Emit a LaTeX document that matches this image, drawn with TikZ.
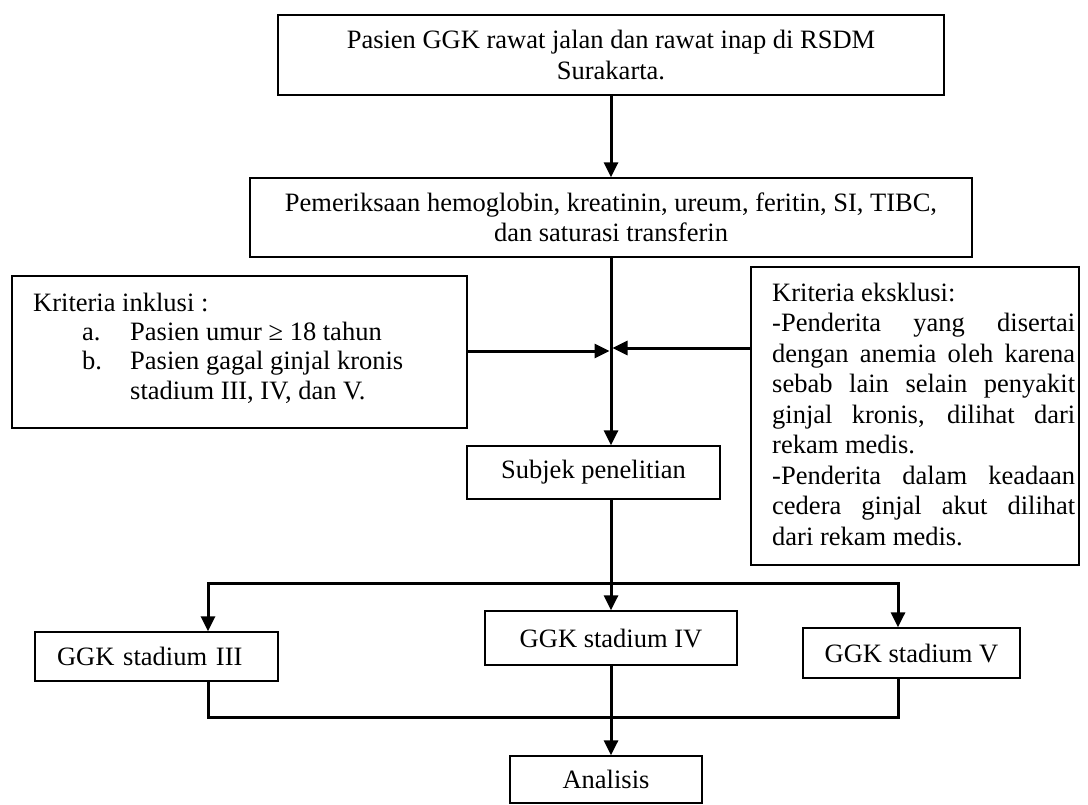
\documentclass[tikz,border=0pt]{standalone}
\usepackage{fontspec}
\setmainfont{Liberation Serif}
\usetikzlibrary{arrows.meta}
\begin{document}
\begin{tikzpicture}[x=1pt,y=-1pt,
  every node/.style={font=\fontsize{26.5}{30.5}\selectfont, inner sep=0pt},
  box/.style={draw, line width=1.3pt, align=center},
  txt/.style={anchor=base west},
  conn/.style={line width=3pt, line cap=rect},
  arr/.style={line width=3pt, -{Triangle[length=15pt,width=14pt]}}]
\fill[white] (0,0) rectangle (1088,804);
\useasboundingbox (0,0) rectangle (1088,804);

% boxes
\node[box, minimum width=666pt, minimum height=80pt] (top) at (611,55)
  {Pasien GGK rawat jalan dan rawat inap di RSDM\\Surakarta.};
\node[box, minimum width=722pt, minimum height=79pt] (exam) at (611,217.5)
  {Pemeriksaan hemoglobin, kreatinin, ureum, feritin, SI, TIBC,\\dan saturasi transferin};

\node[box, minimum width=455pt, minimum height=152pt] (inc) at (239.5,352) {};
\node[txt] (inc1) at (33,311) {Kriteria inklusi :};
\node[txt] (inca) at (82,340) {a.};
\node[txt] (inca2) at (130,340) {Pasien umur ≥ 18 tahun};
\node[txt] (incb) at (82,369.5) {b.};
\node[txt] (incb2) at (130,369.5) {Pasien gagal ginjal kronis};
\node[txt] (incb3) at (130,399) {stadium III, IV, dan V.};

\node[box, minimum width=328pt, minimum height=298pt] (exc) at (915,416) {};
\node[txt] (e1) at (772,301) {Kriteria eksklusi:};
\node[txt] (e2) at (772,331.5) {\makebox[303pt][s]{-Penderita yang disertai}};
\node[txt] (e3) at (772,362) {\makebox[303pt][s]{dengan anemia oleh karena}};
\node[txt] (e4) at (772,392.5) {\makebox[303pt][s]{sebab lain selain penyakit}};
\node[txt] (e5) at (772,423) {\makebox[303pt][s]{ginjal kronis, dilihat dari}};
\node[txt] (e6) at (772,453.5) {rekam medis.};
\node[txt] (e7) at (772,484) {\makebox[303pt][s]{-Penderita dalam keadaan}};
\node[txt] (e8) at (772,514.5) {\makebox[303pt][s]{cedera ginjal akut dilihat}};
\node[txt] (e9) at (772,545) {dari rekam medis.};

\node[box, minimum width=253pt, minimum height=53pt] (subj) at (593.5,472.5) {Subjek penelitian};

\node[box, minimum width=243pt, minimum height=49pt, text width=199pt, align=left] (g3) at (156.5,656.5) {GGK stadium III};
\node[box, minimum width=252pt, minimum height=54pt] (g4) at (611,638) {GGK stadium IV};
\node[box, minimum width=217pt, minimum height=50pt] (g5) at (911.5,653) {GGK stadium V};

\node[box, minimum width=192pt, minimum height=47pt] (ana) at (606,779.5) {Analisis};

% connectors
\draw[arr] (top.south) -- (exam.north);
\draw[arr] (exam.south) -- (exam.south |- subj.north);
\coordinate (ml) at (609.5,351);
\coordinate (mr) at (612.5,348);
\draw[arr] (inc.east |- ml) -- (ml);
\draw[arr] (exc.west |- mr) -- (mr);

\coordinate (b3) at (208,583);
\coordinate (b5) at (898,583);
\draw[conn] (subj.south -| exam.south) -- (exam.south |- b3);
\draw[conn] (b3) -- (b5);
\draw[arr] (b3) -- (b3 |- g3.north);
\draw[arr] (exam.south |- b3) -- (g4.north);
\draw[arr] (b5) -- (b5 |- g5.north);

\coordinate (c3) at (208,717);
\coordinate (c5) at (898,717);
\draw[conn] (c3 |- g3.south) -- (c3) -- (c5) -- (c5 |- g5.south);
\draw[arr] (g4.south) -- (g4.south |- ana.north);
\end{tikzpicture}
\end{document}
